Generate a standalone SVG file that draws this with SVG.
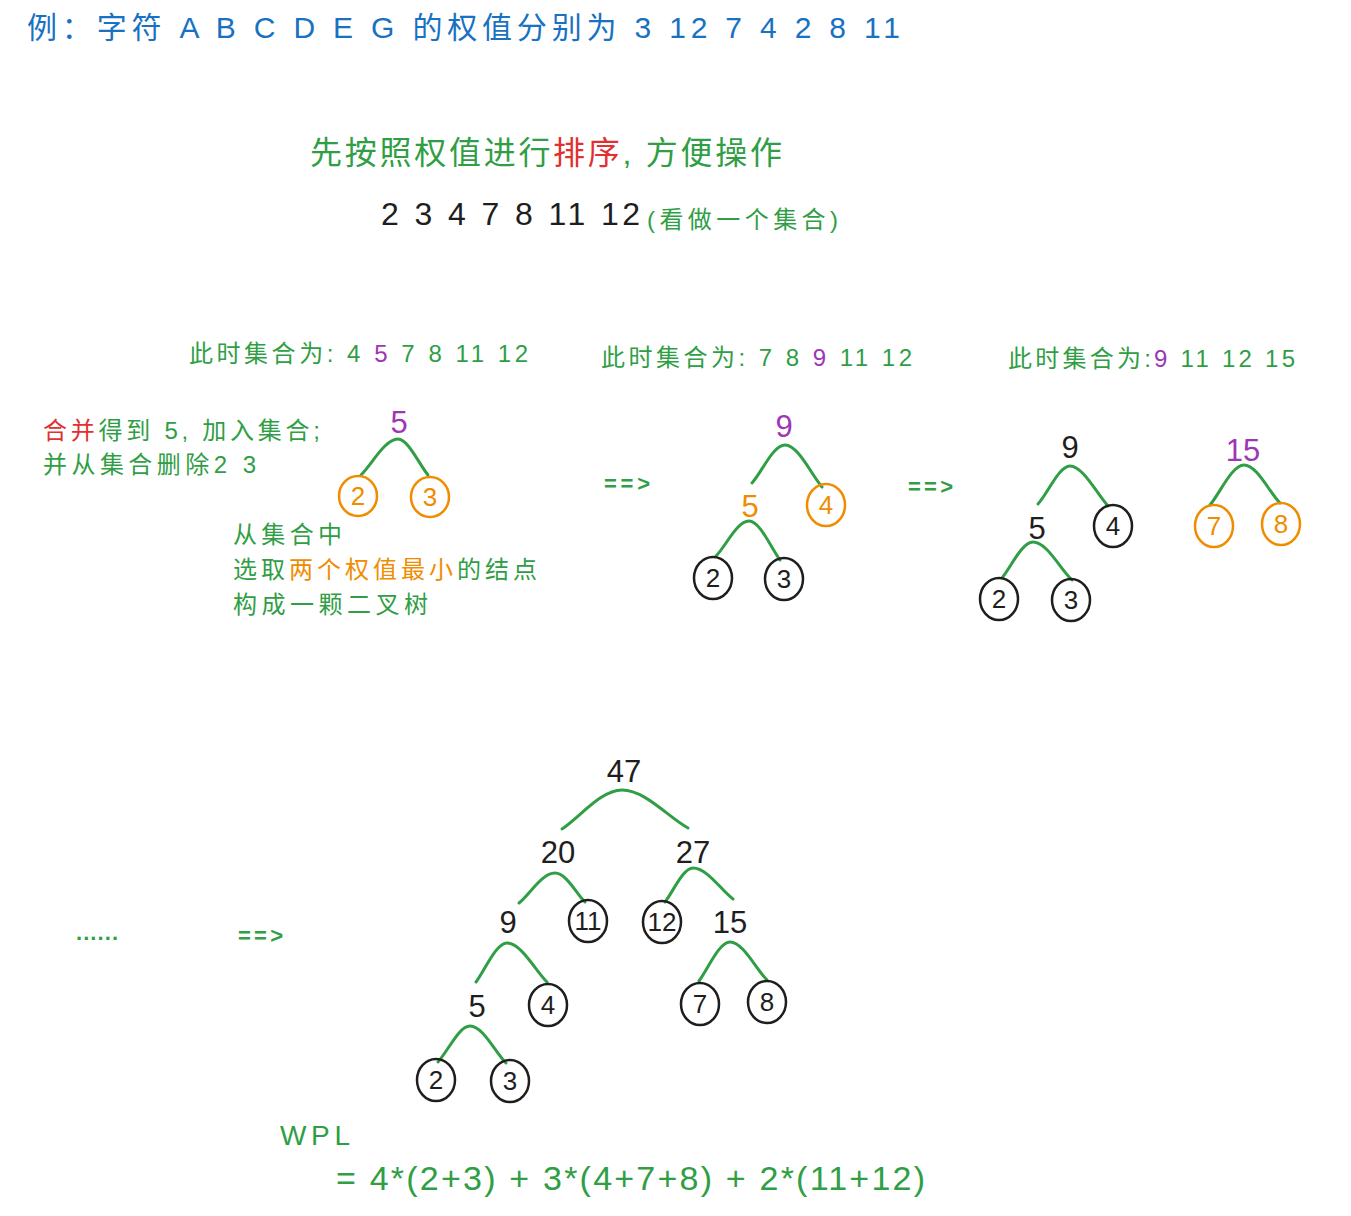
<svg xmlns="http://www.w3.org/2000/svg" width="1351" height="1216" viewBox="0 0 1351 1216">
<style>
text{font-family:"Liberation Sans","Noto Sans CJK SC",sans-serif;}
.g{fill:#2f9e44}.r{fill:#e03131}.o{fill:#f08c00}.p{fill:#9c36b5}.k{fill:#1e1e1e}.b{fill:#1971c2}
.arc{fill:none;stroke:#2f9e44;stroke-width:3;stroke-linecap:round}
.ck{fill:none;stroke:#1e1e1e;stroke-width:2.5}
.co{fill:none;stroke:#f08c00;stroke-width:2.5}
.n{font-size:31px;text-anchor:middle}
.cn{font-size:26px;text-anchor:middle}
</style>
<rect width="1351" height="1216" fill="#ffffff"/>
<g id="texts">
<text class="b" x="27" y="38" font-size="30" textLength="873">例：字符 A B C D E G 的权值分别为 3 12 7 4 2 8 11</text>
<text class="g" x="310" y="164" font-size="32" textLength="472">先按照权值进行<tspan class="r">排序</tspan>, 方便操作</text>
<text class="k" x="381" y="225" font-size="32" textLength="259">2 3 4 7 8 11 12</text>
<text class="g" x="647" y="228" font-size="24" textLength="191">(看做一个集合)</text>
<text class="g" x="189" y="362" font-size="24" textLength="339">此时集合为: 4 <tspan class="p">5</tspan> 7 8 11 12</text>
<text class="g" x="601" y="366" font-size="24" textLength="311">此时集合为: 7 8 <tspan class="p">9</tspan> 11 12</text>
<text class="g" x="1008" y="367" font-size="24" textLength="287">此时集合为:<tspan class="p">9</tspan> 11 12 15</text>
<text class="g" x="43" y="439" font-size="24" textLength="277"><tspan class="r">合并</tspan>得到 5, 加入集合;</text>
<text class="g" x="43" y="473" font-size="24" textLength="213">并从集合删除2 3</text>
<text class="g" x="233" y="543" font-size="24" textLength="109">从集合中</text>
<text class="g" x="233" y="578" font-size="24" textLength="304">选取<tspan class="o">两个权值最小</tspan>的结点</text>
<text class="g" x="233" y="613" font-size="24" textLength="195">构成一颗二叉树</text>
<text class="g" x="604" y="491" font-size="22" font-weight="bold" textLength="46">==&gt;</text>
<text class="g" x="908" y="494" font-size="22" font-weight="bold" textLength="45">==&gt;</text>
<text class="g" x="76" y="940" font-size="22" font-weight="bold" textLength="42">......</text>
<text class="g" x="238" y="943" font-size="22" font-weight="bold" textLength="45">==&gt;</text>
<text class="g" x="280" y="1145" font-size="28" textLength="70">WPL</text>
<text class="g" x="336" y="1190" font-size="34" textLength="589">= 4*(2+3) + 3*(4+7+8) + 2*(11+12)</text>
</g>
<g id="connectors">
<path class="arc" d="M361 475 C372 464 385 439 398 439 C408 439 419 464 428 475"/>
<path class="arc" d="M752 483 C762 472 773 445 785 445 C798 445 811 474 822 487"/>
<path class="arc" d="M716 556 C726 546 737 521 749 521 C760 521 771 548 780 560"/>
<path class="arc" d="M1038 504 C1048 493 1059 466 1070 466 C1083 466 1097 494 1108 506"/>
<path class="arc" d="M1002 578 C1011 567 1022 542 1033 542 C1047 542 1060 569 1072 580"/>
<path class="arc" d="M1210 505 C1220 493 1232 465 1244 465 C1257 465 1269 492 1280 503"/>
<path class="arc" d="M562 829 C580 817 601 790 622 790 C645 790 668 817 688 828"/>
<path class="arc" d="M519 903 C530 894 542 873 555 873 C566 873 576 893 585 902"/>
<path class="arc" d="M665 902 C673 892 683 868 693 868 C707 868 721 890 733 899"/>
<path class="arc" d="M476 982 C485 970 496 943 507 943 C521 943 535 970 547 982"/>
<path class="arc" d="M699 981 C708 969 719 942 730 942 C743 942 756 969 767 980"/>
<path class="arc" d="M438 1062 C448 1051 459 1026 470 1026 C483 1026 495 1052 506 1063"/>
</g>
<g id="tree1">
<g id="t1-5"><text class="n p" x="399" y="433">5</text></g>
<g id="t1-2"><ellipse class="co" cx="358" cy="496" rx="19" ry="20"/><text class="cn o" x="358" y="505">2</text></g>
<g id="t1-3"><ellipse class="co" cx="430" cy="497" rx="19" ry="20"/><text class="cn o" x="430" y="506">3</text></g>
</g>
<g id="tree2">
<g id="t2-9"><text class="n p" x="784" y="437">9</text></g>
<g id="t2-5"><text class="n o" x="750" y="517">5</text></g>
<g id="t2-4"><ellipse class="co" cx="826" cy="505" rx="19" ry="21"/><text class="cn o" x="826" y="514">4</text></g>
<g id="t2-2"><ellipse class="ck" cx="713" cy="578" rx="19" ry="21"/><text class="cn k" x="713" y="587">2</text></g>
<g id="t2-3"><ellipse class="ck" cx="784" cy="579" rx="19" ry="21"/><text class="cn k" x="784" y="588">3</text></g>
</g>
<g id="tree3">
<g id="t3-9"><text class="n k" x="1070" y="458">9</text></g>
<g id="t3-5"><text class="n k" x="1037" y="539">5</text></g>
<g id="t3-4"><ellipse class="ck" cx="1113" cy="526" rx="19" ry="21"/><text class="cn k" x="1113" y="535">4</text></g>
<g id="t3-2"><ellipse class="ck" cx="999" cy="599" rx="19" ry="21"/><text class="cn k" x="999" y="608">2</text></g>
<g id="t3-3"><ellipse class="ck" cx="1071" cy="600" rx="19" ry="21"/><text class="cn k" x="1071" y="609">3</text></g>
<g id="t3-15"><text class="n p" x="1243" y="461">15</text></g>
<g id="t3-7"><ellipse class="co" cx="1214" cy="526" rx="19" ry="21"/><text class="cn o" x="1214" y="535">7</text></g>
<g id="t3-8"><ellipse class="co" cx="1281" cy="524" rx="19" ry="21"/><text class="cn o" x="1281" y="533">8</text></g>
</g>
<g id="tree4">
<g id="t4-47"><text class="n k" x="624" y="782">47</text></g>
<g id="t4-20"><text class="n k" x="558" y="863">20</text></g>
<g id="t4-27"><text class="n k" x="693" y="863">27</text></g>
<g id="t4-9"><text class="n k" x="508" y="933">9</text></g>
<g id="t4-11"><ellipse class="ck" cx="588" cy="921" rx="19" ry="21"/><text class="cn k" x="588" y="930">11</text></g>
<g id="t4-12"><ellipse class="ck" cx="662" cy="922" rx="19" ry="21"/><text class="cn k" x="662" y="931">12</text></g>
<g id="t4-15"><text class="n k" x="730" y="933">15</text></g>
<g id="t4-5"><text class="n k" x="477" y="1017">5</text></g>
<g id="t4-4"><ellipse class="ck" cx="548" cy="1005" rx="19" ry="21"/><text class="cn k" x="548" y="1014">4</text></g>
<g id="t4-7"><ellipse class="ck" cx="700" cy="1004" rx="19" ry="21"/><text class="cn k" x="700" y="1013">7</text></g>
<g id="t4-8"><ellipse class="ck" cx="767" cy="1002" rx="19" ry="21"/><text class="cn k" x="767" y="1011">8</text></g>
<g id="t4-2"><ellipse class="ck" cx="436" cy="1080" rx="19" ry="21"/><text class="cn k" x="436" y="1089">2</text></g>
<g id="t4-3"><ellipse class="ck" cx="510" cy="1081" rx="19" ry="21"/><text class="cn k" x="510" y="1090">3</text></g>
</g>
</svg>
